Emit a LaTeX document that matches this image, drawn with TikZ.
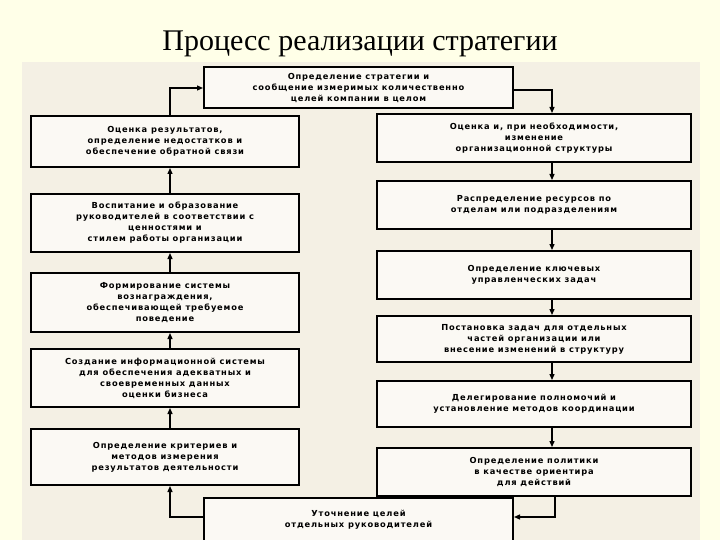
\documentclass[tikz,border=0pt]{standalone}
\usepackage{fontspec}
\setmainfont{Liberation Serif}
\newfontfamily\boxfont[LetterSpace=10]{DejaVu Sans}
\usetikzlibrary{arrows.meta}
\definecolor{bgy}{HTML}{FFFFE8}
\definecolor{scan}{HTML}{F4F0E4}
\tikzset{
 bx/.style={draw=black, line width=2pt, fill=white!60!scan, align=center, inner sep=2pt,
   font=\boxfont\bfseries\fontsize{8.3}{11}\selectfont},
 ar/.style={line width=1.3pt, -{Triangle[length=6pt,width=5pt]}}
}
\newcommand{\bb}[6]{% name, x1, y1, x2, y2, text
 \node[bx, minimum width={#4pt-#2pt}, minimum height={#5pt-#3pt}, anchor=north west] (#1) at (#2pt,-#3pt) {#6};}
\begin{document}
\begin{tikzpicture}[x=1pt,y=1pt]
\fill[bgy] (0,0) rectangle (720,-540);
\useasboundingbox (0,0) rectangle (720,-540);
\fill[scan] (22,-62) rectangle (700,-540);
\node[font=\fontsize{30}{34}\selectfont] (title) at (360,-44) {Процесс реализации стратегии};
\bb{top}{203}{66}{512}{107}{Определение стратегии и\\сообщение измеримых количественно\\целей компании в целом}
\bb{l1}{30}{115}{298}{166}{Оценка результатов,\\определение недостатков и\\обеспечение обратной связи}
\bb{l2}{30}{193}{298}{251}{Воспитание и образование\\руководителей в соответствии с\\ценностями и\\стилем работы организации}
\bb{l3}{30}{272}{298}{331}{Формирование системы\\вознаграждения,\\обеспечивающей требуемое\\поведение}
\bb{l4}{30}{348}{298}{406}{Создание информационной системы\\для обеспечения адекватных и\\своевременных данных\\оценки бизнеса}
\bb{l5}{30}{428}{298}{484}{Определение критериев и\\методов измерения\\результатов деятельности}
\bb{r1}{376}{113}{690}{161}{Оценка и, при необходимости,\\изменение\\организационной структуры}
\bb{r2}{376}{180}{690}{228}{Распределение ресурсов по\\отделам или подразделениям}
\bb{r3}{376}{250}{690}{298}{Определение ключевых\\управленческих задач}
\bb{r4}{376}{315}{690}{361}{Постановка задач для отдельных\\частей организации или\\внесение изменений в структуру}
\bb{r5}{376}{380}{690}{426}{Делегирование полномочий и\\установление методов координации}
\bb{r6}{376}{447}{690}{495}{Определение политики\\в качестве ориентира\\для действий}
\bb{bot}{203}{497}{512}{540}{Уточнение целей\\отдельных руководителей}
% connectors
\coordinate (c1) at (170,-88);
\draw[ar] (l1.north -| c1) -- (c1) -- (c1 -| top.west);
\coordinate (c2) at (552,-90);
\draw[ar] (c2 -| top.east) -- (c2) -- (c2 |- r1.north);
\foreach \a/\b in {r1/r2,r2/r3,r3/r4,r4/r5,r5/r6}
 \draw[ar] (\a.south -| c2) -- (\b.north -| c2);
\foreach \a/\b in {l5/l4,l4/l3,l3/l2,l2/l1}
 \draw[ar] (\a.north -| c1) -- (\b.south -| c1);
\coordinate (c3) at (555,-517);
\draw[ar] (r6.south -| c3) -- (c3) -- (c3 -| bot.east);
\coordinate (c4) at (170,-517);
\draw[ar] (bot.west |- c4) -- (c4) -- (c4 |- l5.south);
\end{tikzpicture}
\end{document}
